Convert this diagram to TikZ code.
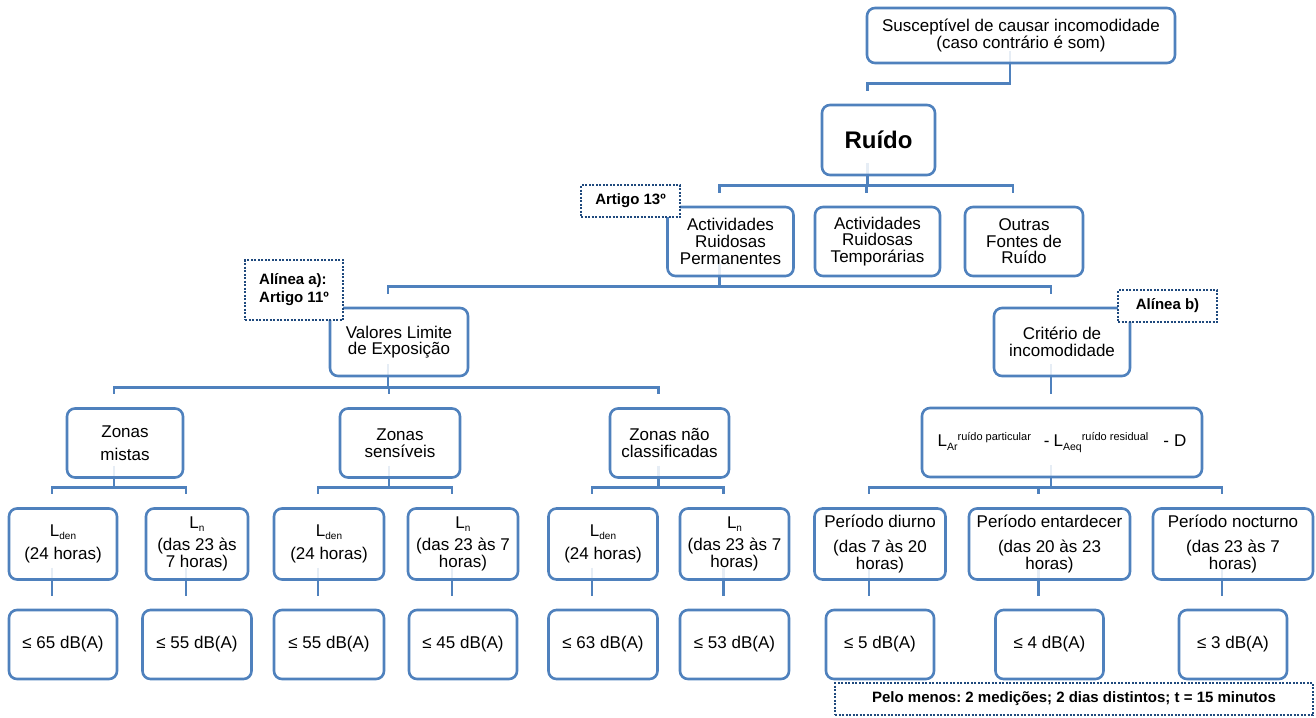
\documentclass[tikz,border=0pt]{standalone}
\usepackage{fontspec}
\setmainfont{Liberation Sans}
\usetikzlibrary{calc}
\pgfdeclarelayer{links}
\pgfsetlayers{links,main}
\frenchspacing
\definecolor{boxblue}{HTML}{4F81BD}
\definecolor{noteblue}{HTML}{1F497D}
% text sizes
\newcommand\bodyfont{\fontsize{17}{16.6}\selectfont}
\newcommand\notefont{\fontsize{15}{18}\selectfont\bfseries}
% small lowered index (L_den, L_n)
\newcommand\lsub[1]{\raisebox{-3pt}{\fontsize{10}{10}\selectfont #1}}
% index and exponent used in the annoyance formula
\newcommand\fsub[1]{\raisebox{-4pt}{\fontsize{10.5}{10.5}\selectfont #1}}
\newcommand\fsup[1]{\raisebox{6pt}{\fontsize{11}{11}\selectfont #1}}
% elbow link from a parent box to a child box
\newcommand\branch[2]{\draw[link] ([shift={(-11,-13)}]#1.south) |- ([shift={(-11,-20)}]#2.north) -- ([shift={(-11,-13)}]#2.north);}

\begin{document}
\begin{tikzpicture}[x=1pt,y=-1pt,
  card/.style={draw=boxblue, line width=2.6pt, rounded corners=8pt, fill=white,
    fill opacity=0.86, text opacity=1, inner sep=0pt, align=center,
    font=\bodyfont, text=black},
  note/.style={draw=noteblue, line width=2.2pt, dash pattern=on 2pt off 1.5pt,
    fill=white, inner sep=0pt, align=center, font=\notefont, text=black},
  link/.style={draw=boxblue, line width=2.6pt},
]
\useasboundingbox (0,0) rectangle (1316,717);

% ---- top of the hierarchy
\node[card, minimum width=308pt, minimum height=55pt] (top) at (1021,35.5)
  {Susceptível de causar incomodidade\\(caso contrário é som)};
\node[card, minimum width=113pt, minimum height=70pt, font=\fontsize{24}{24}\selectfont\bfseries] (ruido) at (878.5,140) {Ruído};

% ---- kinds of noise sources
\node[card, minimum width=126pt, minimum height=69pt] (arp) at (730.5,241.5) {Actividades\\Ruidosas\\Permanentes};
\node[card, minimum width=125pt, minimum height=69pt] (art) at (877.5,241.5) {Actividades\\Ruidosas\\Temporárias};
\node[card, minimum width=118pt, minimum height=69pt] (out) at (1024,241.5) {Outras\\Fontes de\\Ruído};

% ---- two legal criteria
\node[card, minimum width=138pt, minimum height=68pt] (vle) at (399,342) {Valores Limite\\de Exposição};
\node[card, minimum width=136pt, minimum height=68pt] (cri) at (1062,342) {Critério de\\incomodidade};

% ---- zones
\node[card, minimum width=116pt, minimum height=69pt] (zm) at (125,443) {Zonas\\[6pt]mistas};
\node[card, minimum width=120pt, minimum height=69pt] (zs) at (400,443) {Zonas\\sensíveis};
\node[card, minimum width=119pt, minimum height=69pt] (znc) at (669.5,443) {Zonas não\\classificadas};

% ---- annoyance formula
\node[card, minimum width=280pt, minimum height=69pt] (form) at (1062,442.5)
  {L\fsub{Ar}\fsup{ruído particular}\hspace{13pt}-\hspace{4pt}L\fsub{Aeq}\fsup{ruído residual}\hspace{15pt}-\hspace{5pt}D};

% ---- indicators and periods
\node[card, minimum width=108pt, minimum height=71pt] (l1) at (63,544) {L\lsub{den}\\[6pt](24 horas)};
\node[card, minimum width=102pt, minimum height=71pt] (l2) at (197,544) {L\lsub{n}\\[5pt](das 23 às\\7 horas)};
\node[card, minimum width=110pt, minimum height=71pt] (l3) at (329,544) {L\lsub{den}\\[6pt](24 horas)};
\node[card, minimum width=110pt, minimum height=71pt] (l4) at (463,544) {L\lsub{n}\\[5pt](das 23 às 7\\horas)};
\node[card, minimum width=109pt, minimum height=71pt] (l5) at (603,544) {L\lsub{den}\\[6pt](24 horas)};
\node[card, minimum width=109pt, minimum height=71pt] (l6) at (734.5,544) {L\lsub{n}\\[5pt](das 23 às 7\\horas)};
\node[card, minimum width=131pt, minimum height=71pt] (p1) at (880,544) {Período diurno\\[8pt](das 7 às 20\\horas)};
\node[card, minimum width=161pt, minimum height=71pt] (p2) at (1049.5,544) {Período entardecer\\[8pt](das 20 às 23\\horas)};
\node[card, minimum width=160pt, minimum height=71pt] (p3) at (1233,544) {Período nocturno\\[8pt](das 23 às 7\\horas)};

% ---- limit values
\node[card, minimum width=108pt, minimum height=69pt] (v1) at (63,644.5) {≤ 65 dB(A)};
\node[card, minimum width=109pt, minimum height=69pt] (v2) at (197,644.5) {≤ 55 dB(A)};
\node[card, minimum width=110pt, minimum height=69pt] (v3) at (329,644.5) {≤ 55 dB(A)};
\node[card, minimum width=108pt, minimum height=69pt] (v4) at (463,644.5) {≤ 45 dB(A)};
\node[card, minimum width=109pt, minimum height=69pt] (v5) at (603,644.5) {≤ 63 dB(A)};
\node[card, minimum width=109pt, minimum height=69pt] (v6) at (734.5,644.5) {≤ 53 dB(A)};
\node[card, minimum width=108pt, minimum height=69pt] (v7) at (880,644.5) {≤ 5 dB(A)};
\node[card, minimum width=108pt, minimum height=69pt] (v8) at (1049.5,644.5) {≤ 4 dB(A)};
\node[card, minimum width=108pt, minimum height=69pt] (v9) at (1233,644.5) {≤ 3 dB(A)};

% ---- legal references (dotted notes)
\node[note, minimum width=99pt, minimum height=32pt] (art13) at (630.5,201) {Artigo 13º};
\node[note, minimum width=98pt, minimum height=60pt, align=left] (ala) at (294,290) {Alínea a):\\Artigo 11º};
\node[note, minimum width=99pt, minimum height=32pt] (alb) at (1167.5,306) {Alínea b)};
\node[note, minimum width=478pt, minimum height=32pt] (pelo) at (1074,699) {Pelo menos: 2 medições; 2 dias distintos; t = 15 minutos};

% ---- links, drawn beneath the boxes
\begin{pgfonlayer}{links}
\branch{top}{ruido}
\branch{ruido}{arp}\branch{ruido}{art}\branch{ruido}{out}
\branch{arp}{vle}\branch{arp}{cri}
\branch{vle}{zm}\branch{vle}{zs}\branch{vle}{znc}
\branch{cri}{form}
\branch{zm}{l1}\branch{zm}{l2}
\branch{zs}{l3}\branch{zs}{l4}
\branch{znc}{l5}\branch{znc}{l6}
\branch{form}{p1}\branch{form}{p2}\branch{form}{p3}
\branch{l1}{v1}\branch{l2}{v2}\branch{l3}{v3}
\branch{l4}{v4}\branch{l5}{v5}\branch{l6}{v6}
\branch{p1}{v7}\branch{p2}{v8}\branch{p3}{v9}
\end{pgfonlayer}
\end{tikzpicture}
\end{document}
